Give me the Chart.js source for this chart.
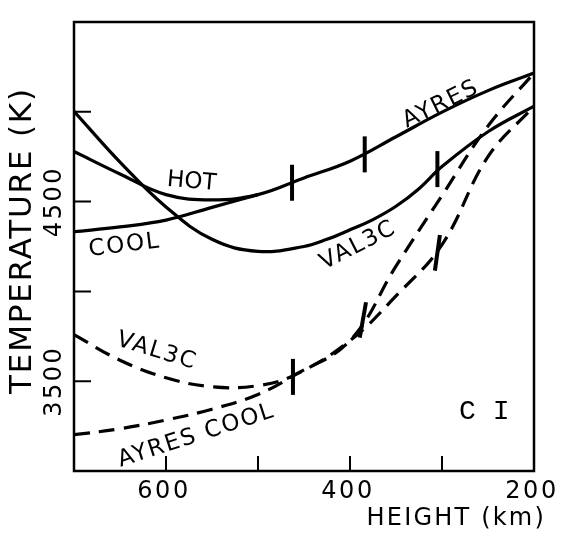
<!DOCTYPE html>
<html>
<head>
<meta charset="utf-8">
<script src="https://cdn.jsdelivr.net/npm/chart.js@4.4.1/dist/chart.umd.min.js"></script>
<style>
  html, body { margin: 0; padding: 0; background: #fff; }
  #wrap { width: 562px; height: 538px; position: relative; }
</style>
</head>
<body>
<div id="wrap"><canvas id="chart"></canvas></div>
<script>
// heights (km) and temperatures (K)
const hotHeights = [700, 650, 600, 550, 500, 450, 400, 350, 300, 250, 200];
const hotTemps   = [4779, 4654, 4539, 4510, 4539, 4632, 4725, 4861, 4998, 5118, 5216];

const coolHeights = [700, 650, 600, 550, 500];
const coolTemps   = [4332, 4359, 4397, 4468, 4539];

const valHeights = [700, 650, 600, 550, 500, 450, 425, 400, 375, 350, 325, 300, 250, 200];
const valTemps   = [5003, 4720, 4470, 4290, 4223, 4250, 4290, 4343, 4400, 4474, 4572, 4695, 4889, 5031];

const ayresCoolDashHeights = [700, 650, 600, 550, 500, 460, 400, 350, 300, 250, 200];
const ayresCoolDashTemps   = [3202, 3235, 3284, 3344, 3426, 3535, 3726, 4141, 4534, 4921, 5216];

const valDashHeights = [700, 650, 600, 550, 500, 460, 400, 350, 300, 250, 200];
const valDashTemps   = [3759, 3617, 3519, 3469, 3475, 3535, 3726, 3975, 4260, 4750, 5031];

// short bars drawn across the curves
const markerHeights = [463, 384, 305, 462, 386, 305];
const markerTemps   = [4605, 4763, 4681, 3524, 3841, 4215];
const markerAngles  = [90, 90, 90, 90, 100, 98];

// axis tick labels
const xTickLabels = [600, 400, 200];
const yTickLabels = [4500, 3500];

// curve labels
const labelTexts   = ['HOT', 'COOL', 'AYRES', 'VAL3C', 'VAL3C', 'AYRES COOL', 'C I'];
const labelHeights = [572, 645, 301, 391, 610, 567, 254];
const labelTemps   = [4610, 4255, 5041, 4255, 3666, 3196, 3328];
const labelAngles  = [5, -7, -26, -27, 17, -18, 0];

const pts = (hs, ts) => hs.map((h, i) => ({ x: h, y: ts[i] }));

const solid = (label, hs, ts) => ({
    label: label,
    data: pts(hs, ts),
    borderColor: '#000',
    borderWidth: 3.2,
    pointRadius: 0,
    fill: false,
    tension: 0.4
});

const dashed = (label, hs, ts) => Object.assign(solid(label, hs, ts), { borderDash: [16, 9] });

function putText(ctx, str, x, y, deg, font, spacing, align) {
    ctx.save();
    ctx.translate(x, y);
    ctx.rotate(deg * Math.PI / 180);
    ctx.font = font;
    ctx.letterSpacing = spacing + 'px';
    ctx.textAlign = align || 'center';
    ctx.textBaseline = 'middle';
    ctx.fillText(str, 0, 0);
    ctx.restore();
}

const inkPlugin = {
    id: 'ink',
    afterDraw(chart) {
        const ctx = chart.ctx;
        const xs = chart.scales.x;
        const ys = chart.scales.y;
        const a = chart.chartArea;
        ctx.save();
        ctx.strokeStyle = '#000';
        ctx.fillStyle = '#000';

        // frame
        ctx.lineWidth = 2.5;
        ctx.strokeRect(a.left, a.top, a.right - a.left, a.bottom - a.top);

        // inward ticks
        ctx.lineWidth = 2;
        ctx.beginPath();
        xs.ticks.forEach(t => {
            if (t.value > 200 && t.value < 700) {
                const px = xs.getPixelForValue(t.value);
                ctx.moveTo(px, a.bottom);
                ctx.lineTo(px, a.bottom - 15);
            }
        });
        ys.ticks.forEach(t => {
            if (t.value > 3000 && t.value < 5500) {
                const py = ys.getPixelForValue(t.value);
                ctx.moveTo(a.left, py);
                ctx.lineTo(a.left + 17, py);
            }
        });
        ctx.stroke();

        // tick labels
        xTickLabels.forEach(v => {
            putText(ctx, String(v), xs.getPixelForValue(v) - 2, a.bottom + 21, 0, '24px "DejaVu Sans"', 2.5);
        });
        yTickLabels.forEach(v => {
            putText(ctx, String(v), a.left - 19, ys.getPixelForValue(v), -90, '24px "DejaVu Sans"', 2.5);
        });

        // axis titles
        putText(ctx, 'HEIGHT (km)', a.right + 12, a.bottom + 48, 0, '24px "DejaVu Sans"', 2.2, 'right');
        putText(ctx, 'TEMPERATURE (K)', a.left - 51, (a.top + a.bottom) / 2 - 6, -90, '31px "DejaVu Sans"', 1.8);

        // curve labels
        labelTexts.forEach((txt, i) => {
            const x = xs.getPixelForValue(labelHeights[i]);
            const y = ys.getPixelForValue(labelTemps[i]);
            if (txt === 'C I') {
                putText(ctx, txt, x, y, 0, '28px "Liberation Mono"', 0);
            } else {
                putText(ctx, txt, x, y, labelAngles[i], '23px "DejaVu Sans"', txt === 'HOT' ? 0 : 1.8);
            }
        });
        ctx.restore();
    }
};

new Chart(document.getElementById('chart'), {
    type: 'line',
    data: {
        datasets: [
            solid('HOT', hotHeights, hotTemps),
            solid('COOL', coolHeights, coolTemps),
            solid('VAL3C', valHeights, valTemps),
            dashed('AYRES COOL', ayresCoolDashHeights, ayresCoolDashTemps),
            dashed('VAL3C dashed', valDashHeights, valDashTemps),
            {
                label: 'markers',
                type: 'scatter',
                data: pts(markerHeights, markerTemps),
                showLine: false,
                pointStyle: 'line',
                pointRadius: 18,
                pointRotation: markerAngles,
                pointBorderWidth: 4,
                borderColor: '#000',
                backgroundColor: '#000'
            }
        ]
    },
    options: {
        responsive: true,
        maintainAspectRatio: false,
        animation: false,
        layout: { padding: { left: 74, right: 28, top: 13, bottom: 67 } },
        plugins: {
            legend: { display: false },
            tooltip: { enabled: false }
        },
        scales: {
            x: {
                type: 'linear',
                reverse: true,
                min: 200,
                max: 700,
                display: false,
                ticks: { stepSize: 100 }
            },
            y: {
                type: 'linear',
                min: 3000,
                max: 5500,
                display: false,
                ticks: { stepSize: 500 }
            }
        }
    },
    plugins: [inkPlugin]
});
</script>
</body>
</html>
